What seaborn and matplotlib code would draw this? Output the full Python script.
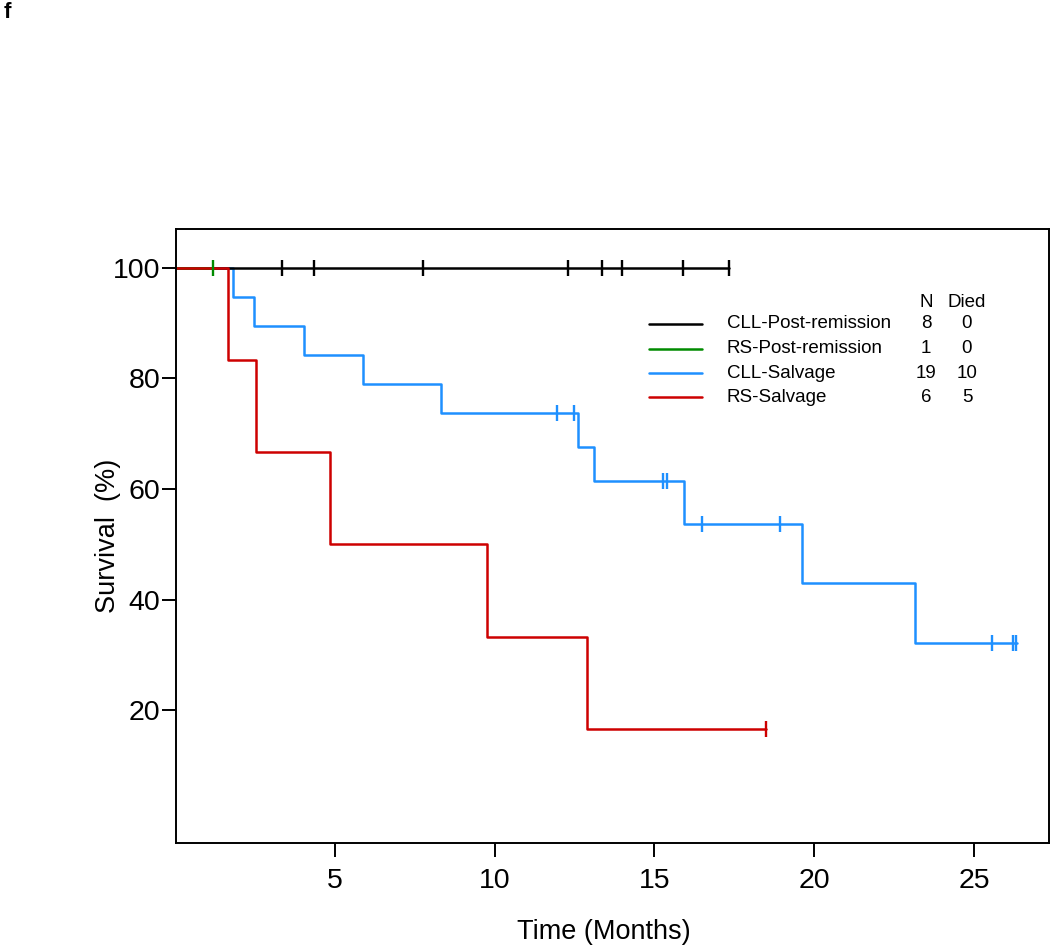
import matplotlib
matplotlib.use("Agg")
from matplotlib import pyplot as plt
import seaborn as sns

# Kaplan-Meier step data (months, survival %)
cll_post_t = [0, 17.34]
cll_post_s = [100, 100]
cll_post_cens_t = [3.35, 4.34, 7.76, 12.30, 13.35, 14.0, 15.89, 17.34]
cll_post_cens_s = [100, 100, 100, 100, 100, 100, 100, 100]

rs_post_t = [0, 1.19]
rs_post_s = [100, 100]
rs_post_cens_t = [1.19]
rs_post_cens_s = [100]

cll_salv_t = [0, 1.83, 2.49, 4.04, 5.89, 8.32, 12.6, 13.1, 15.91, 19.62, 23.14, 26.35]
cll_salv_s = [100, 94.7, 89.5, 84.2, 78.9, 73.7, 67.5, 61.4, 53.7, 43.0, 32.2, 32.2]
cll_salv_cens_t = [11.96, 12.48, 15.26, 15.38, 16.49, 18.92, 25.56, 26.22, 26.3]
cll_salv_cens_s = [73.7, 73.7, 61.4, 61.4, 53.7, 53.7, 32.2, 32.2, 32.2]

rs_salv_t = [0, 1.67, 2.53, 4.85, 9.77, 12.9, 18.48]
rs_salv_s = [100, 83.3, 66.7, 50.0, 33.3, 16.7, 16.7]
rs_salv_cens_t = [18.48]
rs_salv_cens_s = [16.7]

group_names = ["CLL-Post-remission", "RS-Post-remission", "CLL-Salvage", "RS-Salvage"]
group_n = ["8", "1", "19", "6"]
group_died = ["0", "0", "10", "5"]
group_colors = ["black", "#008B00", "#1E90FF", "#CD0000"]

x_ticks = [5, 10, 15, 20, 25]
y_ticks = [20, 40, 60, 80, 100]

sns.set_style("ticks")
plt.rcParams["font.family"] = ["Liberation Sans", "DejaVu Sans"]
plt.rcParams["text.color"] = "black"
plt.rcParams["axes.labelcolor"] = "black"
plt.rcParams["xtick.color"] = "black"
plt.rcParams["ytick.color"] = "black"

fig = plt.figure(figsize=(10.5, 9.47), dpi=100)
ax = fig.add_axes([0.1673, 0.1098, 0.8318, 0.6484])

curves = [
    (cll_post_t, cll_post_s, cll_post_cens_t, cll_post_cens_s),
    (rs_post_t, rs_post_s, rs_post_cens_t, rs_post_cens_s),
    (cll_salv_t, cll_salv_s, cll_salv_cens_t, cll_salv_cens_s),
    (rs_salv_t, rs_salv_s, rs_salv_cens_t, rs_salv_cens_s),
]
# draw blue, black, green, red in that order so red sits on top at 100%
for idx in [2, 0, 1, 3]:
    t, s, ct, cs = curves[idx]
    col = group_colors[idx]
    sns.lineplot(x=t, y=s, drawstyle="steps-post", estimator=None, sort=False,
                 color=col, linewidth=1.8, ax=ax, legend=False)
    ax.plot(ct, cs, linestyle="none", marker="|", markersize=11,
            markeredgewidth=1.7, color=col, zorder=3)

ax.set_xlim(0.03, 27.34)
ax.set_ylim(-4, 107)
ax.set_xticks(x_ticks)
ax.set_yticks(y_ticks)
ax.set_xticklabels([str(v) for v in x_ticks], fontsize=20.5)
ax.set_yticklabels([str(v) for v in y_ticks], fontsize=20.5)
ax.tick_params(axis="both", length=10, width=1.4, color="black", labelcolor="black")
ax.tick_params(axis="x", pad=8)
ax.tick_params(axis="y", pad=1)
for sp in ax.spines.values():
    sp.set_visible(True)
    sp.set_linewidth(1.4)
    sp.set_color("black")

ax.set_xlabel("Time (Months)", fontsize=19.5, va="center")
ax.set_ylabel("Survival  (%)", fontsize=19.5, va="center")
ax.xaxis.set_label_coords(0.49, -0.145)
ax.yaxis.set_label_coords(-0.078, 0.5)

# legend table drawn in axes coordinates
row_y = [0.846, 0.805, 0.765, 0.726]
ax.text(0.859, 0.880, "N", transform=ax.transAxes, ha="center", va="center", fontsize=13.5)
ax.text(0.906, 0.880, "Died", transform=ax.transAxes, ha="center", va="center", fontsize=13.5)
for i in range(4):
    ax.plot([0.542, 0.603], [row_y[i], row_y[i]], transform=ax.transAxes,
            color=group_colors[i], linewidth=1.8)
    ax.text(0.631, row_y[i], group_names[i], transform=ax.transAxes,
            ha="left", va="center", fontsize=13.5)
    ax.text(0.859, row_y[i], group_n[i], transform=ax.transAxes,
            ha="center", va="center", fontsize=13.5)
    ax.text(0.906, row_y[i], group_died[i], transform=ax.transAxes,
            ha="center", va="center", fontsize=13.5)

fig.text(0.003, 0.998, "f", fontsize=16, fontweight="bold", ha="left", va="top")

fig.savefig("out.png", dpi=100)
